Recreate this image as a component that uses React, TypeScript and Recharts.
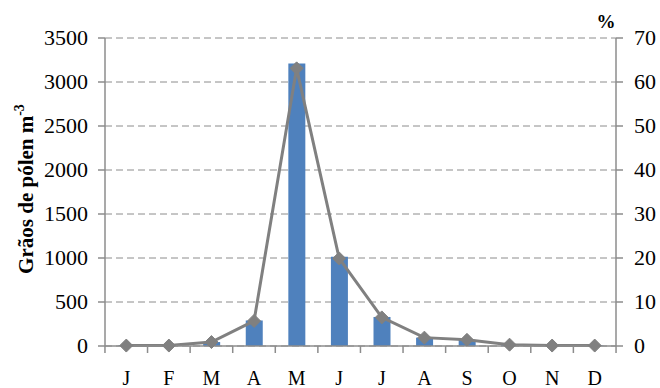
import { ComposedChart, Bar, Line, XAxis, YAxis, CartesianGrid } from "recharts";

const months = ["J", "F", "M", "A", "M", "J", "J", "A", "S", "O", "N", "D"];
const grains = [5, 5, 45, 290, 3210, 1015, 330, 95, 70, 15, 5, 5];
const percent = [0.1, 0.1, 0.9, 5.7, 63.1, 19.9, 6.5, 1.9, 1.4, 0.3, 0.1, 0.1];
const leftTicks = [0, 500, 1000, 1500, 2000, 2500, 3000, 3500];
const rightTicks = [0, 10, 20, 30, 40, 50, 60, 70];

const data = months.map((m, i) => ({ name: m, grains: grains[i], percent: percent[i] }));

const FONT = "Liberation Serif";
const AXIS = "#8c8c8c";
const W = 660;
const H = 388;
const PLOT_W = 512;
const band = PLOT_W / months.length;

function MonthTick({ x, y, payload, index }: any) {
  return (
    <g>
      <line x1={x - band / 2} x2={x - band / 2} y1={y} y2={y + 7} stroke={AXIS} strokeWidth={1.5} />
      {index === months.length - 1 && (
        <line x1={x + band / 2} x2={x + band / 2} y1={y} y2={y + 7} stroke={AXIS} strokeWidth={1.5} />
      )}
      <text x={x} y={y + 39} textAnchor="middle" style={{ fontFamily: FONT, fontSize: 20 }} fill="#000">
        {payload.value}
      </text>
    </g>
  );
}

// y tick text; x/y arrive already offset by tickSize + tickMargin
function ValueTick({ x, y, payload, textAnchor }: any) {
  return (
    <text x={x} y={y} dy={7} textAnchor={textAnchor} style={{ fontFamily: FONT, fontSize: 22 }} fill="#000">
      {payload.value}
    </text>
  );
}

function Diamond({ cx, cy }: any) {
  if (cx == null || cy == null) return null;
  const r = 6.5;
  return (
    <path d={`M${cx},${cy - r}L${cx + r},${cy}L${cx},${cy + r}L${cx - r},${cy}Z`} fill="#808080" stroke="#808080" />
  );
}

function LeftLabel({ viewBox }: any) {
  const cy = viewBox.y + viewBox.height / 2 - 3;
  return (
    <text
      x={33}
      y={cy}
      transform={`rotate(-90, 33, ${cy})`}
      textAnchor="middle"
      style={{ fontFamily: FONT, fontSize: 21, fontWeight: "bold" }}
      fill="#000"
    >
      Grãos de pólen m<tspan dy={-9} style={{ fontSize: 14 }}>-3</tspan>
    </text>
  );
}

function RightLabel({ viewBox }: any) {
  return (
    <text x={viewBox.x - 10} y={28} textAnchor="middle" style={{ fontFamily: FONT, fontSize: 19, fontWeight: "bold" }} fill="#000">
      %
    </text>
  );
}

export default function App() {
  return (
    <div style={{ position: "fixed", left: 0, top: 0, background: "#fff", fontFamily: FONT }}>
      <ComposedChart width={W} height={H} data={data} margin={{ top: 38, right: 0, left: 0, bottom: 0 }}>
        <CartesianGrid yAxisId="left" vertical={false} stroke={AXIS} strokeDasharray="7 4" />
        <XAxis
          dataKey="name"
          height={42}
          axisLine={{ stroke: AXIS, strokeWidth: 1.5 }}
          tickLine={false}
          tickSize={0}
          tickMargin={0}
          tick={<MonthTick />}
          interval={0}
        />
        <YAxis
          yAxisId="left"
          width={105}
          domain={[0, 3500]}
          ticks={leftTicks}
          interval={0}
          axisLine={{ stroke: AXIS, strokeWidth: 1.5 }}
          tickLine={{ stroke: AXIS, strokeWidth: 1.5 }}
          tickSize={7}
          tickMargin={10}
          tick={<ValueTick />}
          label={LeftLabel}
        />
        <YAxis
          yAxisId="right"
          orientation="right"
          width={44}
          domain={[0, 70]}
          ticks={rightTicks}
          interval={0}
          axisLine={{ stroke: AXIS, strokeWidth: 1.5 }}
          tickLine={{ stroke: AXIS, strokeWidth: 1.5 }}
          tickSize={7}
          tickMargin={11}
          tick={<ValueTick />}
          label={RightLabel}
        />
        <Bar yAxisId="left" dataKey="grains" fill="#4f81bd" barSize={17} isAnimationActive={false} />
        <Line
          yAxisId="right"
          dataKey="percent"
          type="linear"
          stroke="#808080"
          strokeWidth={3}
          dot={<Diamond />}
          activeDot={false}
          isAnimationActive={false}
        />
      </ComposedChart>
    </div>
  );
}
